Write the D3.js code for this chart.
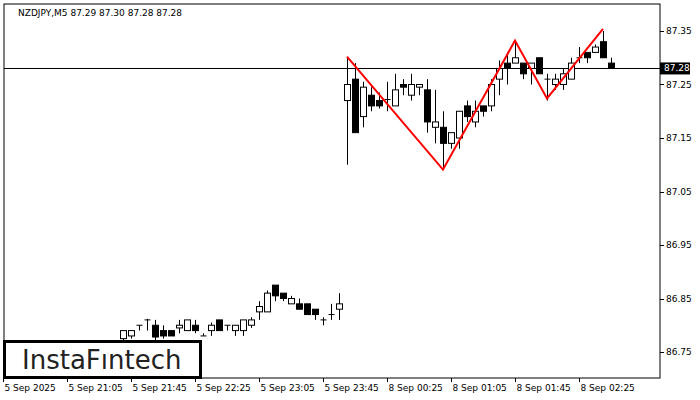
<!DOCTYPE html>
<html><head><meta charset="utf-8">
<script src="https://cdn.jsdelivr.net/npm/d3@7"></script>
<style>body{margin:0;background:#fff}text{font-family:"DejaVu Sans",sans-serif}</style>
</head><body><svg id="chart" width="700" height="400"></svg>
<script>
// candles from index 15; [open, high, low, close]
const startIndex = 15;
const opens  = [86.775,86.78,86.80,86.81,86.80,86.79,86.79,86.795,86.79,86.80,86.78,86.79,86.81,86.80,86.79,86.79,86.80,86.825,86.825,86.875,86.86,86.84,86.84,86.84,86.83,86.81,86.82,86.83,
  87.22,87.26,87.19,87.23,87.22,87.222,87.21,87.25,87.23,87.245,87.24,87.17,87.17,87.14,87.15,87.21,87.18,87.21,
  87.21,87.26,87.29,87.29,87.29,87.28,87.30,87.26,87.25,87.25,87.26,87.30,87.31,87.31,87.33,87.29];
const highs  = [86.79,86.79,86.80,86.812,86.81,86.80,86.79,86.81,86.81,86.81,86.785,86.805,86.81,86.80,86.80,86.81,86.815,86.845,86.865,86.875,86.86,86.855,86.85,86.84,86.83,86.815,86.84,86.86,
  87.30,87.29,87.255,87.245,87.235,87.255,87.27,87.26,87.27,87.25,87.26,87.24,87.20,87.16,87.20,87.22,87.22,87.21,
  87.26,87.295,87.31,87.33,87.29,87.29,87.30,87.27,87.27,87.28,87.30,87.32,87.31,87.325,87.35,87.30];
const lows   = [86.77,86.775,86.79,86.79,86.77,86.775,86.78,86.785,86.79,86.785,86.78,86.78,86.79,86.79,86.78,86.78,86.795,86.81,86.825,86.845,86.845,86.84,86.83,86.82,86.81,86.80,86.81,86.81,
  87.10,87.16,87.17,87.20,87.205,87.20,87.21,87.23,87.22,87.23,87.16,87.14,87.09,87.13,87.13,87.18,87.17,87.19,
  87.20,87.23,87.25,87.29,87.26,87.25,87.27,87.22,87.24,87.24,87.26,87.29,87.29,87.31,87.30,87.28];
const closes = [86.79,86.79,86.80,86.81,86.778,86.78,86.78,86.80,86.81,86.79,86.78,86.80,86.79,86.80,86.80,86.81,86.81,86.835,86.86,86.855,86.85,86.85,86.83,86.82,86.82,86.81,86.82,86.84,
  87.25,87.16,87.245,87.21,87.21,87.222,87.24,87.245,87.25,87.25,87.18,87.18,87.14,87.16,87.20,87.19,87.20,87.20,
  87.25,87.28,87.28,87.30,87.27,87.29,87.27,87.26,87.26,87.27,87.29,87.30,87.30,87.32,87.30,87.28];
// pattern line: [index, price]
const patternIdx = [43, 55, 64, 68, 75];
const patternPx  = [87.302, 87.091, 87.332, 87.224, 87.354];
const priceTicks = [86.75, 86.85, 86.95, 87.05, 87.15, 87.25, 87.35];
const timeIdx = [0, 8, 16, 24, 32, 40, 48, 56, 64, 72];
const timeLabels = ["5 Sep 2025","5 Sep 21:05","5 Sep 21:45","5 Sep 22:25","5 Sep 23:05","5 Sep 23:45","8 Sep 00:25","8 Sep 01:05","8 Sep 01:45","8 Sep 02:25"];
const lastPrice = 87.28;

const svg = d3.select("#chart");
const L = 4, R = 660, T = 4, B = 378;
const x = d3.scaleLinear().domain([0, 1]).range([3, 11]);
const y = d3.scaleLinear().domain([86.75, 87.35]).range([352, 31]);

svg.append("rect").attr("x", L).attr("y", T).attr("width", R - L).attr("height", B - T)
  .attr("fill", "none").attr("stroke", "#000");

// right axis
const ra = svg.append("g");
priceTicks.forEach(p => {
  ra.append("line").attr("x1", R).attr("x2", R + 4).attr("y1", Math.round(y(p)) + 0.5).attr("y2", Math.round(y(p)) + 0.5).attr("stroke", "#000");
  ra.append("text").attr("x", R + 6).attr("y", y(p) + 3).attr("font-size", 9).text(p.toFixed(2));
});
// bottom axis
timeIdx.forEach((t, i) => {
  const xx = Math.round(x(t)) + 0.5;
  svg.append("line").attr("x1", xx).attr("x2", xx).attr("y1", B).attr("y2", B + 4).attr("stroke", "#000");
  svg.append("text").attr("x", xx + 1).attr("y", B + 13).attr("font-size", 9).text(timeLabels[i]);
});

// last price line
svg.append("line").attr("x1", L).attr("x2", R).attr("y1", Math.round(y(lastPrice)) + 0.5).attr("y2", Math.round(y(lastPrice)) + 0.5).attr("stroke", "#000");
svg.append("rect").attr("x", R).attr("y", y(lastPrice) - 6).attr("width", 30).attr("height", 12).attr("fill", "#000");
svg.append("text").attr("x", R + 4).attr("y", y(lastPrice) + 3).attr("font-size", 9).attr("fill", "#fff").text(lastPrice.toFixed(2));

// candles
const g = svg.append("g");
opens.forEach((o, i) => {
  const xx = Math.round(x(startIndex + i)) + 0.5, c = closes[i];
  g.append("line").attr("x1", xx).attr("x2", xx).attr("y1", y(highs[i])).attr("y2", y(lows[i])).attr("stroke", "#000");
  const top = y(Math.max(o, c)), bot = y(Math.min(o, c));
  if (bot - top < 1) {
    g.append("line").attr("x1", xx - 3).attr("x2", xx + 3).attr("y1", top).attr("y2", top).attr("stroke", "#000");
  } else {
    g.append("rect").attr("x", xx - 3).attr("y", top).attr("width", 6).attr("height", bot - top)
      .attr("fill", c >= o ? "#fff" : "#000").attr("stroke", "#000");
  }
});

// pattern
svg.append("path").attr("d", d3.line().x((d, i) => x(d)).y((d, i) => y(patternPx[i]))(patternIdx))
  .attr("fill", "none").attr("stroke", "#f00").attr("stroke-width", 2);

svg.append("text").attr("x", 18).attr("y", 16).attr("font-size", 9).text("NZDJPY,M5  87.29 87.30 87.28 87.28");

// logo
svg.append("rect").attr("x", 4.5).attr("y", 341.5).attr("width", 196).attr("height", 36).attr("fill", "#fff").attr("stroke", "#000").attr("stroke-width", 3);
svg.append("text").attr("x", 22).attr("y", 369).attr("font-size", 26).attr("font-family", "Inter, sans-serif").attr("fill", "#222").text("InstaFıntech");
</script></body></html>
